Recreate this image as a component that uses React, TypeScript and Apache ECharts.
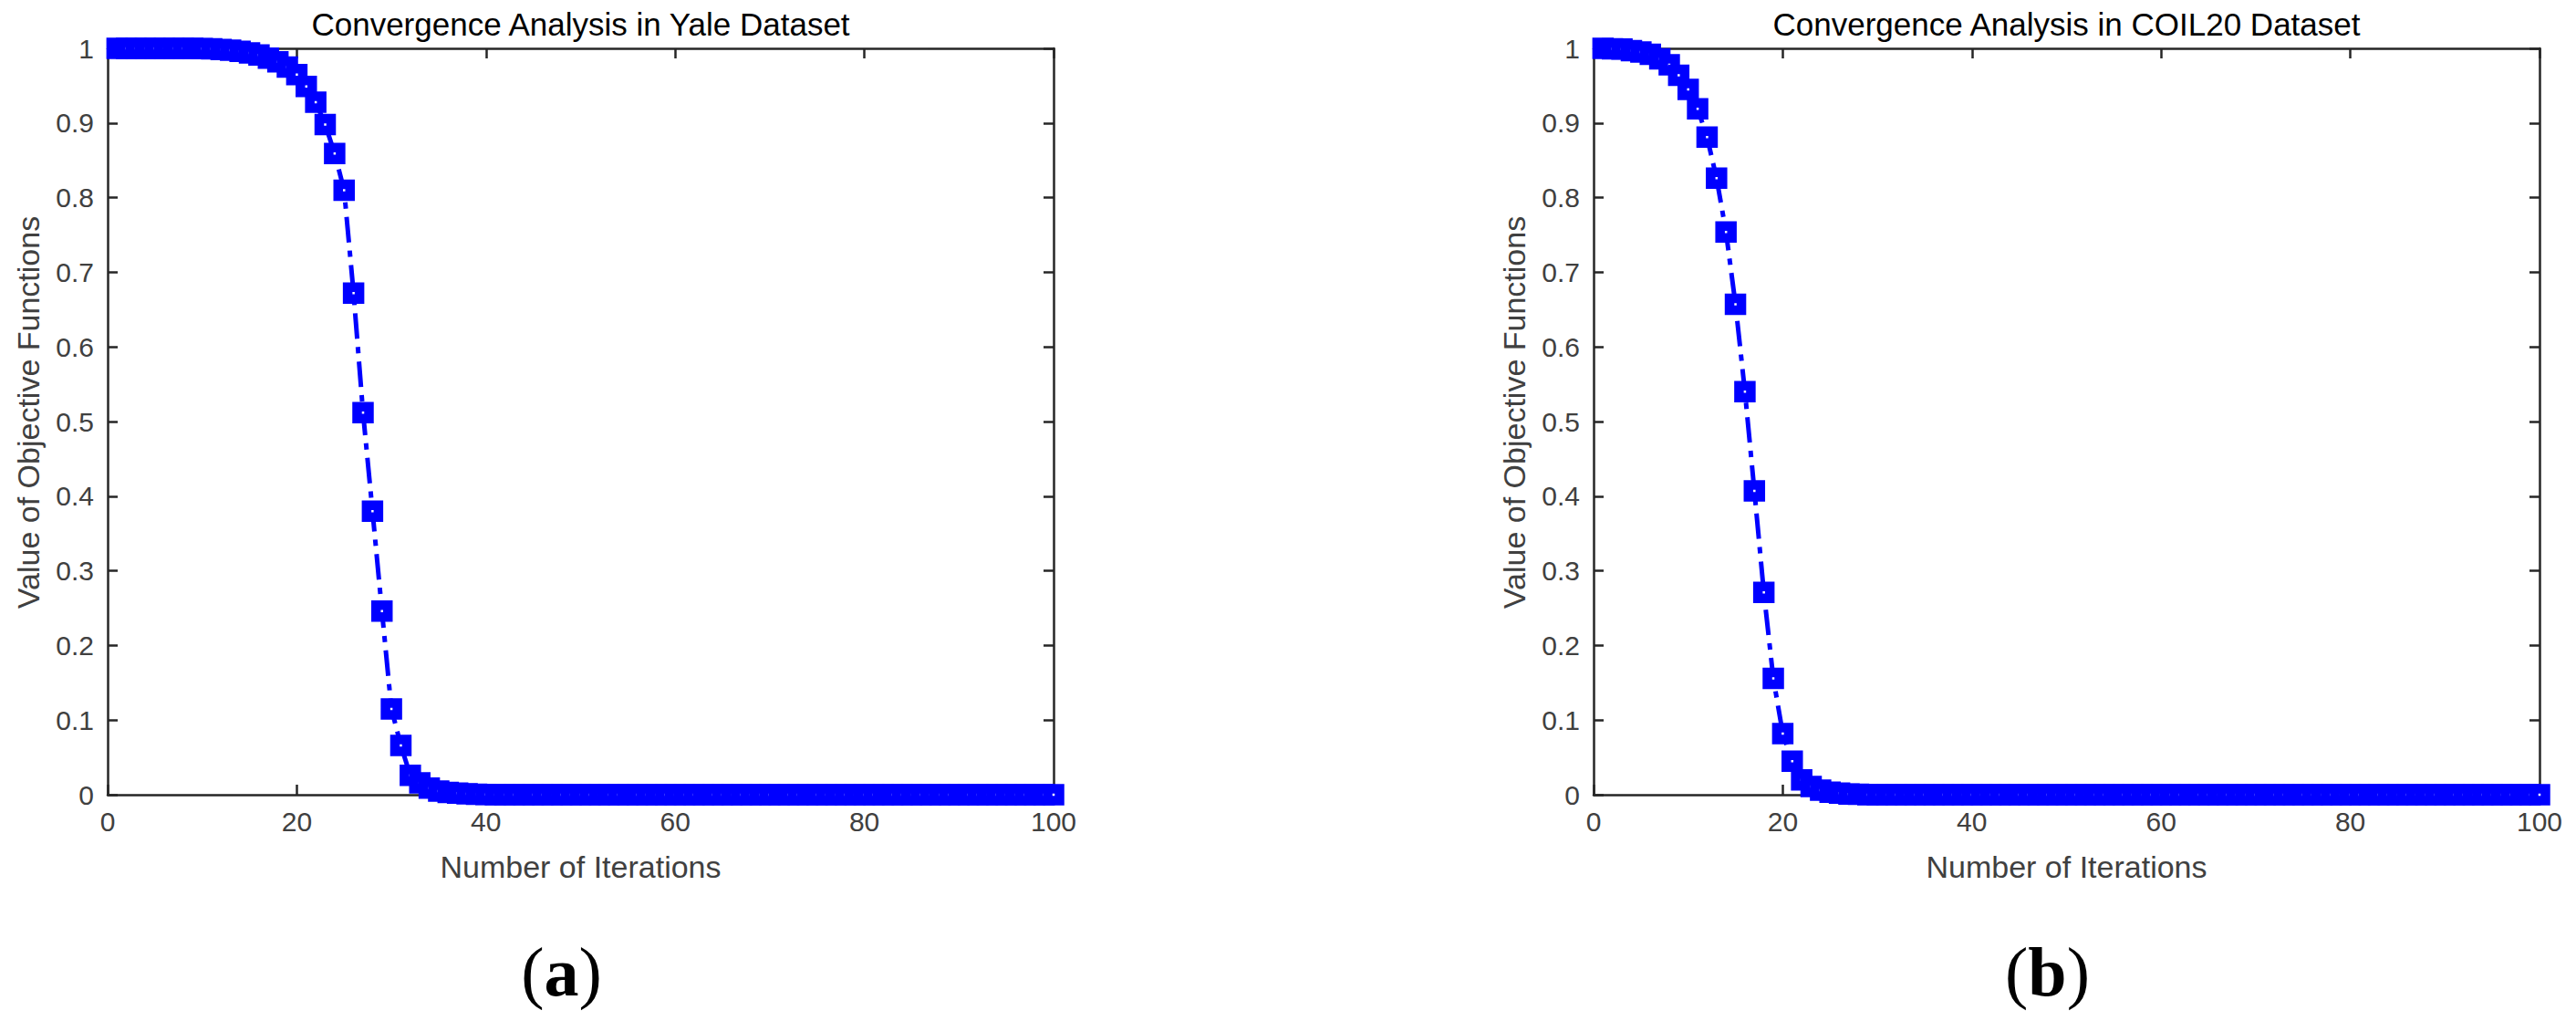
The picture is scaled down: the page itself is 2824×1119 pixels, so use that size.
import React, { useEffect, useRef } from "react";
import * as echarts from "echarts";

// Iteration index (x) shared by both panels
const iterations: number[] = Array.from({ length: 100 }, (_, i) => i + 1);

// (a) Yale dataset — objective value per iteration
const yaleValues: number[] = [
  1.0, 1.0, 1.0, 1.0, 1.0, 1.0, 1.0, 1.0, 0.9999, 0.9998,
  0.9993, 0.9985, 0.9975, 0.996, 0.994, 0.991, 0.987, 0.982, 0.975, 0.965,
  0.949, 0.928, 0.898, 0.859, 0.81, 0.672, 0.512, 0.38, 0.246, 0.115,
  0.066, 0.026, 0.016, 0.009, 0.005, 0.003, 0.002, 0.0012, 0.0006, 0.0003,
  0, 0, 0, 0, 0, 0, 0, 0, 0, 0,
  0, 0, 0, 0, 0, 0, 0, 0, 0, 0,
  0, 0, 0, 0, 0, 0, 0, 0, 0, 0,
  0, 0, 0, 0, 0, 0, 0, 0, 0, 0,
  0, 0, 0, 0, 0, 0, 0, 0, 0, 0,
  0, 0, 0, 0, 0, 0, 0, 0, 0, 0,
];

// (b) COIL20 dataset — objective value per iteration
const coilValues: number[] = [
  1.0, 0.9995, 0.999, 0.997, 0.995, 0.992, 0.986, 0.978, 0.964, 0.945,
  0.919, 0.881, 0.826, 0.754, 0.657, 0.54, 0.407, 0.271, 0.156, 0.082,
  0.045, 0.02, 0.011, 0.006, 0.0035, 0.002, 0.001, 0.0005, 0, 0,
  0, 0, 0, 0, 0, 0, 0, 0, 0, 0,
  0, 0, 0, 0, 0, 0, 0, 0, 0, 0,
  0, 0, 0, 0, 0, 0, 0, 0, 0, 0,
  0, 0, 0, 0, 0, 0, 0, 0, 0, 0,
  0, 0, 0, 0, 0, 0, 0, 0, 0, 0,
  0, 0, 0, 0, 0, 0, 0, 0, 0, 0,
  0, 0, 0, 0, 0, 0, 0, 0, 0, 0,
];

const panelTitles: string[] = [
  "Convergence Analysis in Yale Dataset",
  "Convergence Analysis in COIL20 Dataset",
];
const panelLetters: string[] = ["a", "b"];
const xAxisName = "Number of Iterations";
const yAxisName = "Value of Objective Functions";

const FONT = "Liberation Sans, Arial, Helvetica, sans-serif";
const SERIF = "Liberation Serif, Times New Roman, serif";
const AXIS_COLOR = "#262626";
const LABEL_COLOR = "#404040";
const BLUE = "#0000ff";

const GRID_TOP = 53;
const GRID_H = 818;
const GRID_W = 1037;
const GRID_LEFTS = [118, 1747];

export default function App() {
  const ref = useRef<HTMLDivElement>(null);

  useEffect(() => {
    if (!ref.current) return;
    const chart = echarts.init(ref.current, null, { renderer: "svg" });

    const seriesData = [yaleValues, coilValues];

    const grids = GRID_LEFTS.map((left) => ({
      left,
      top: GRID_TOP,
      width: GRID_W,
      height: GRID_H,
      containLabel: false,
    }));

    const axisLine = { show: true, onZero: false, lineStyle: { color: AXIS_COLOR, width: 2.5 } };
    const axisTick = { show: true, inside: true, length: 11, lineStyle: { color: AXIS_COLOR, width: 2.5 } };

    const xAxes: any[] = [];
    const yAxes: any[] = [];
    GRID_LEFTS.forEach((_, g) => {
      xAxes.push({
        type: "value",
        gridIndex: g,
        position: "bottom",
        min: 0,
        max: 100,
        interval: 20,
        axisLine,
        axisTick,
        splitLine: { show: false },
        axisLabel: { color: LABEL_COLOR, fontSize: 30, fontFamily: FONT, margin: 14 },
        name: xAxisName,
        nameLocation: "middle",
        nameGap: 62,
        nameTextStyle: { color: LABEL_COLOR, fontSize: 34, fontFamily: FONT },
      });
      xAxes.push({
        type: "value",
        gridIndex: g,
        position: "top",
        min: 0,
        max: 100,
        interval: 20,
        axisLine,
        axisTick,
        splitLine: { show: false },
        axisLabel: { show: false },
      });
      yAxes.push({
        type: "value",
        gridIndex: g,
        position: "left",
        min: 0,
        max: 1,
        interval: 0.1,
        axisLine,
        axisTick,
        splitLine: { show: false },
        axisLabel: {
          color: LABEL_COLOR,
          fontSize: 30,
          fontFamily: FONT,
          margin: 15,
          formatter: (v: number) => String(Math.round(v * 10) / 10),
        },
        name: yAxisName,
        nameLocation: "middle",
        nameGap: 70,
        nameTextStyle: { color: LABEL_COLOR, fontSize: 34, fontFamily: FONT, padding: [0, 0, 0, 20] },
      });
      yAxes.push({
        type: "value",
        gridIndex: g,
        position: "right",
        min: 0,
        max: 1,
        interval: 0.1,
        axisLine,
        axisTick,
        splitLine: { show: false },
        axisLabel: { show: false },
      });
    });

    const series = seriesData.map((vals, g) => ({
      type: "line",
      xAxisIndex: g * 2,
      yAxisIndex: g * 2,
      data: iterations.map((it, i) => [it, vals[i]]),
      symbol: "rect",
      symbolSize: 13,
      showSymbol: true,
      showAllSymbol: true,
      clip: false,
      itemStyle: { color: "#ffffff", borderColor: BLUE, borderWidth: 10.5 },
      lineStyle: { color: BLUE, width: 5, type: [28, 9, 7, 9] },
      emphasis: { disabled: true },
    }));

    const titles: any[] = [];
    GRID_LEFTS.forEach((left, g) => {
      titles.push({
        text: panelTitles[g],
        left: left + GRID_W / 2,
        top: 9,
        padding: 0,
        textAlign: "center",
        textStyle: { color: "#000000", fontSize: 35, fontWeight: "normal", fontFamily: FONT },
      });
      titles.push({
        text: `{p|(}{b|${panelLetters[g]}}{p|)}`,
        left: left + GRID_W / 2 - 21,
        top: 1027,
        padding: 0,
        textAlign: "center",
        textStyle: {
          rich: {
            p: { fontSize: 76, fontFamily: SERIF, color: "#000000", fontWeight: "normal" },
            b: { fontSize: 76, fontFamily: SERIF, color: "#000000", fontWeight: "bold" },
          },
        },
      });
    });

    chart.setOption({
      animation: false,
      backgroundColor: "#ffffff",
      title: titles,
      grid: grids,
      xAxis: xAxes,
      yAxis: yAxes,
      series,
    });

    return () => chart.dispose();
  }, []);

  return (
    <div
      ref={ref}
      style={{ position: "absolute", left: 0, top: 0, width: 2824, height: 1119, background: "#ffffff" }}
    />
  );
}
